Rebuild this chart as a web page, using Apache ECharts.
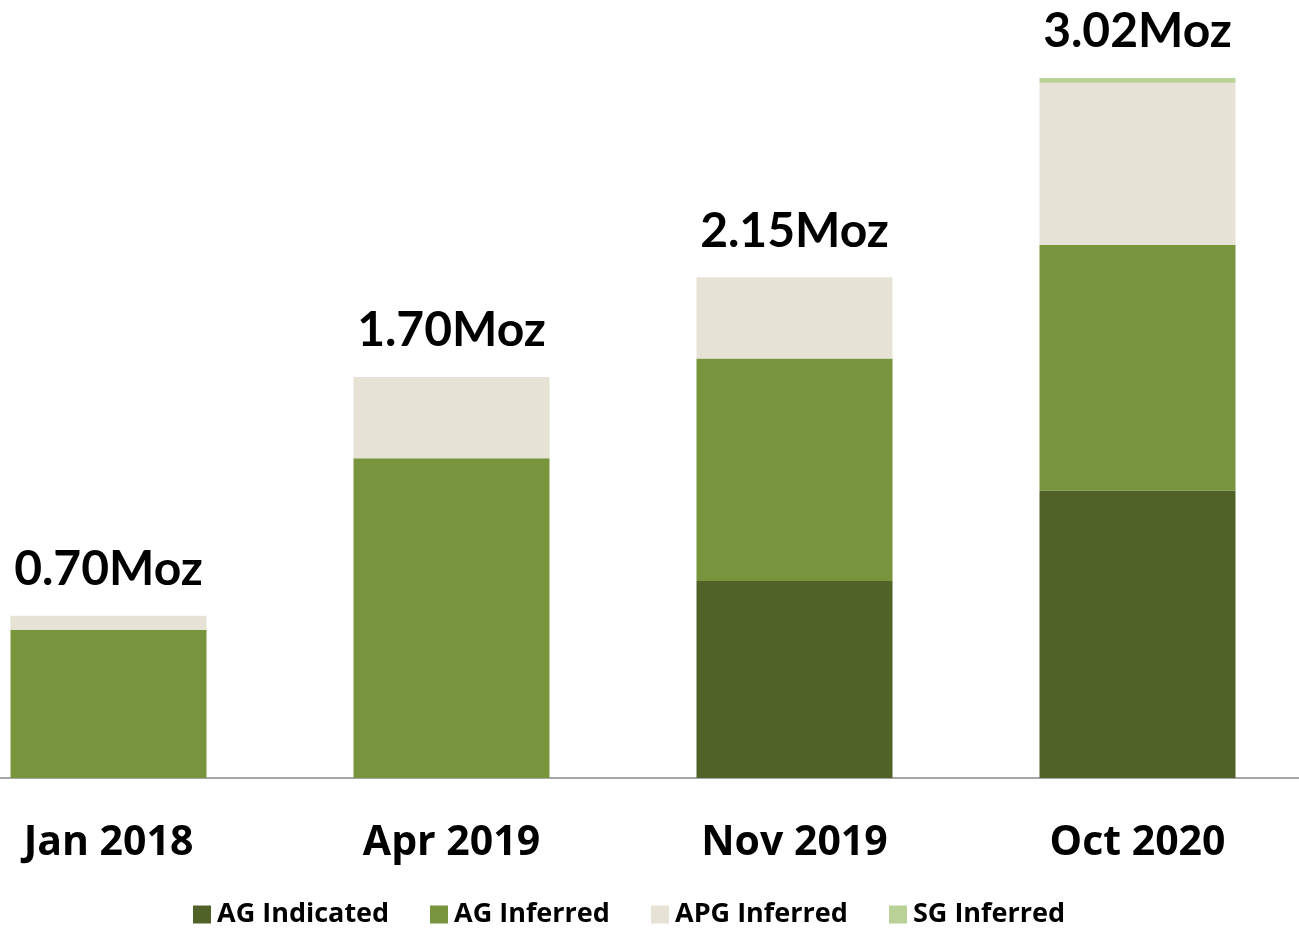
<!DOCTYPE html>
<html><head><meta charset="utf-8">
<script src="https://cdn.jsdelivr.net/npm/echarts@6/dist/echarts.min.js"></script>
<style>html,body{margin:0;padding:0;background:#fff}#c{width:1299px;height:929px}</style>
</head><body><div id="c"></div>
<script>
const categories = ['Jan 2018', 'Apr 2019', 'Nov 2019', 'Oct 2020'];
const totalLabels = ['0.70Moz', '1.70Moz', '2.15Moz', '3.02Moz'];
const agIndicated = [0, 0, 0.85, 1.24];
const agInferred = [0.64, 1.38, 0.96, 1.06];
const apgInferred = [0.06, 0.35, 0.35, 0.70];
const sgInferred = [0, 0, 0, 0.02];
const seriesNames = ['AG Indicated', 'AG Inferred', 'APG Inferred', 'SG Inferred'];
const colors = ['#506228', '#78943c', '#e6e3d6', '#b9d196'];

const totals = categories.map((_, i) => agIndicated[i] + agInferred[i] + apgInferred[i] + sgInferred[i]);
const chart = echarts.init(document.getElementById('c'));
const stackData = [agIndicated, agInferred, apgInferred, sgInferred];
const series = stackData.map((d, k) => ({
  name: seriesNames[k], type: 'bar', stack: 'total', data: d, clip: false,
  barWidth: 196, itemStyle: { color: colors[k] }, z: 3
}));
series.push({
  name: 'total', type: 'bar', data: totals, barWidth: 196, barGap: '-100%', clip: false,
  itemStyle: { color: 'rgba(0,0,0,0)' }, z: 1, silent: true,
  label: { show: true, position: 'top', distance: 22,
    formatter: p => totalLabels[p.dataIndex],
    fontFamily: 'Lato', fontWeight: 'bold', fontSize: 48, color: '#000', lineHeight: 48 }
});
const legendLefts = [188, 425, 646, 884];
chart.setOption({
  animation: false,
  grid: [
    { left: 108.5, right: 161.5, top: 78, bottom: 151 },
    { left: 0, right: 0, top: 78, bottom: 151 }
  ],
  xAxis: [
    { type: 'category', data: categories, boundaryGap: false, gridIndex: 0,
      axisLine: { show: false }, axisTick: { show: false }, splitLine: { show: false },
      axisLabel: { fontFamily: 'Open Sans', fontWeight: 'bold', fontSize: 41, color: '#000', margin: 45 } },
    { type: 'category', data: [''], gridIndex: 1,
      axisLine: { lineStyle: { color: '#a6a6a6', width: 2 } }, axisTick: { show: false },
      axisLabel: { show: false } }
  ],
  yAxis: [
    { type: 'value', min: 0, max: 3.02, show: false, gridIndex: 0 },
    { type: 'value', min: 0, max: 1, show: false, gridIndex: 1 }
  ],
  legend: seriesNames.map((n, i) => ({
    data: [n], left: legendLefts[i], top: 896, itemWidth: 18, itemHeight: 18, icon: 'rect',
    textStyle: { fontFamily: 'Open Sans', fontWeight: 'bold', fontSize: 27, color: '#000', padding: [0, 0, 0, 1] }, itemGap: 0
  })),
  series
});
</script></body></html>
